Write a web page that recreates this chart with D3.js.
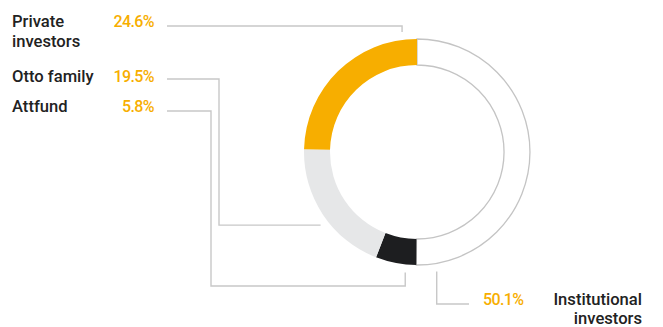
<!DOCTYPE html>
<html>
<head>
<meta charset="utf-8">
<script src="https://cdn.jsdelivr.net/npm/d3@7"></script>
<style>
  body { margin: 0; background: #fff; }
  svg { display: block; }
  text { font-family: Roboto, "Noto Sans", sans-serif; font-weight: 500; }
  .pct { letter-spacing: -0.6px; }
</style>
</head>
<body>
<div class="main"></div>
<script>
// data, in clockwise order starting at 12 o'clock
var owners = ["Institutional investors", "Attfund", "Otto family", "Private investors"];
var shares = [50.1, 5.8, 19.5, 24.6];
var shareLabels = ["50.1%", "5.8%", "19.5%", "24.6%"];
var nameLines = [["Institutional", "investors"], ["Attfund"], ["Otto family"], ["Private", "investors"]];
var colours = ["#ffffff", "#1d1e20", "#e6e7e8", "#f7ae00"];

//canvas config
var width = 663, height = 327;
var cx = 417, cy = 152;
var outerR = 113, innerR = 87, leaderR = 121;

var svg = d3.select(".main")
	.append("svg")
	.attr("width", width)
	.attr("height", height);

var pie = d3.pie().sort(null).value(function(d) { return d; });
var arcs = pie(shares);
var arcGen = d3.arc().innerRadius(innerR).outerRadius(outerR);

var ring = svg.append("g")
	.attr("transform", "translate(" + cx + "," + cy + ")");

ring.selectAll("path")
	.data(arcs)
	.enter()
	.append("path")
	.attr("d", arcGen)
	.attr("fill", function(d, i) { return colours[i]; })
	.attr("stroke", function(d, i) { return i == 0 ? "#c4c4c4" : "none"; })
	.attr("stroke-width", 1.3);

// where along each slice the leader line touches (fraction of the slice)
var leaderFrac = [0.946, 0.25, 0.45, 0.92];
function leaderPoint(i) {
	var a = arcs[i].startAngle + leaderFrac[i] * (arcs[i].endAngle - arcs[i].startAngle);
	return [cx + leaderR * Math.sin(a), cy - leaderR * Math.cos(a)];
}

var lineStart = 167;
var rowY = [0, 111, 79, 26]; // leader y of left labels (index matches owners)
var leaders = [];
var p;
// institutional
p = leaderPoint(0);
leaders.push("M" + p[0] + "," + p[1] + "V304H469");
// attfund
p = leaderPoint(1);
leaders.push("M" + lineStart + "," + rowY[1] + "H211V286H" + p[0] + "V" + p[1]);
// otto family
p = leaderPoint(2);
leaders.push("M" + lineStart + "," + rowY[2] + "H219V" + p[1] + "H" + p[0]);
// private investors
p = leaderPoint(3);
leaders.push("M" + lineStart + "," + rowY[3] + "H" + p[0] + "V" + p[1]);

svg.append("g")
	.attr("class", "leaders")
	.selectAll("path")
	.data(leaders)
	.enter()
	.append("path")
	.attr("d", function(d) { return d; })
	.attr("fill", "none")
	.attr("stroke", "#c8c8c8")
	.attr("stroke-width", 1.4);

// left labels
var textY = [0, 112, 82, 27];
var labels = svg.append("g").attr("class", "labels");
[1, 2, 3].forEach(function(i) {
	var t = labels.append("text")
		.attr("x", 12)
		.attr("y", textY[i])
		.attr("font-size", 16.6)
		.attr("fill", "#222");
	nameLines[i].forEach(function(line, j) {
		t.append("tspan").attr("x", 12).attr("dy", j == 0 ? 0 : 20).text(line);
	});
	labels.append("text")
		.attr("class", "pct")
		.attr("x", 154)
		.attr("y", textY[i])
		.attr("text-anchor", "end")
		.attr("font-size", 16)
		.attr("fill", colours[3])
		.text(shareLabels[i]);
});

// institutional label, bottom right
labels.append("text")
	.attr("class", "pct")
	.attr("x", 483)
	.attr("y", 305)
	.attr("font-size", 16)
	.attr("fill", colours[3])
	.text(shareLabels[0]);
var inst = labels.append("text")
	.attr("x", 642)
	.attr("y", 305)
	.attr("text-anchor", "end")
	.attr("font-size", 16.6)
	.attr("fill", "#222");
nameLines[0].forEach(function(line, j) {
	inst.append("tspan").attr("x", 642).attr("dy", j == 0 ? 0 : 19).text(line);
});
</script>
</body>
</html>
